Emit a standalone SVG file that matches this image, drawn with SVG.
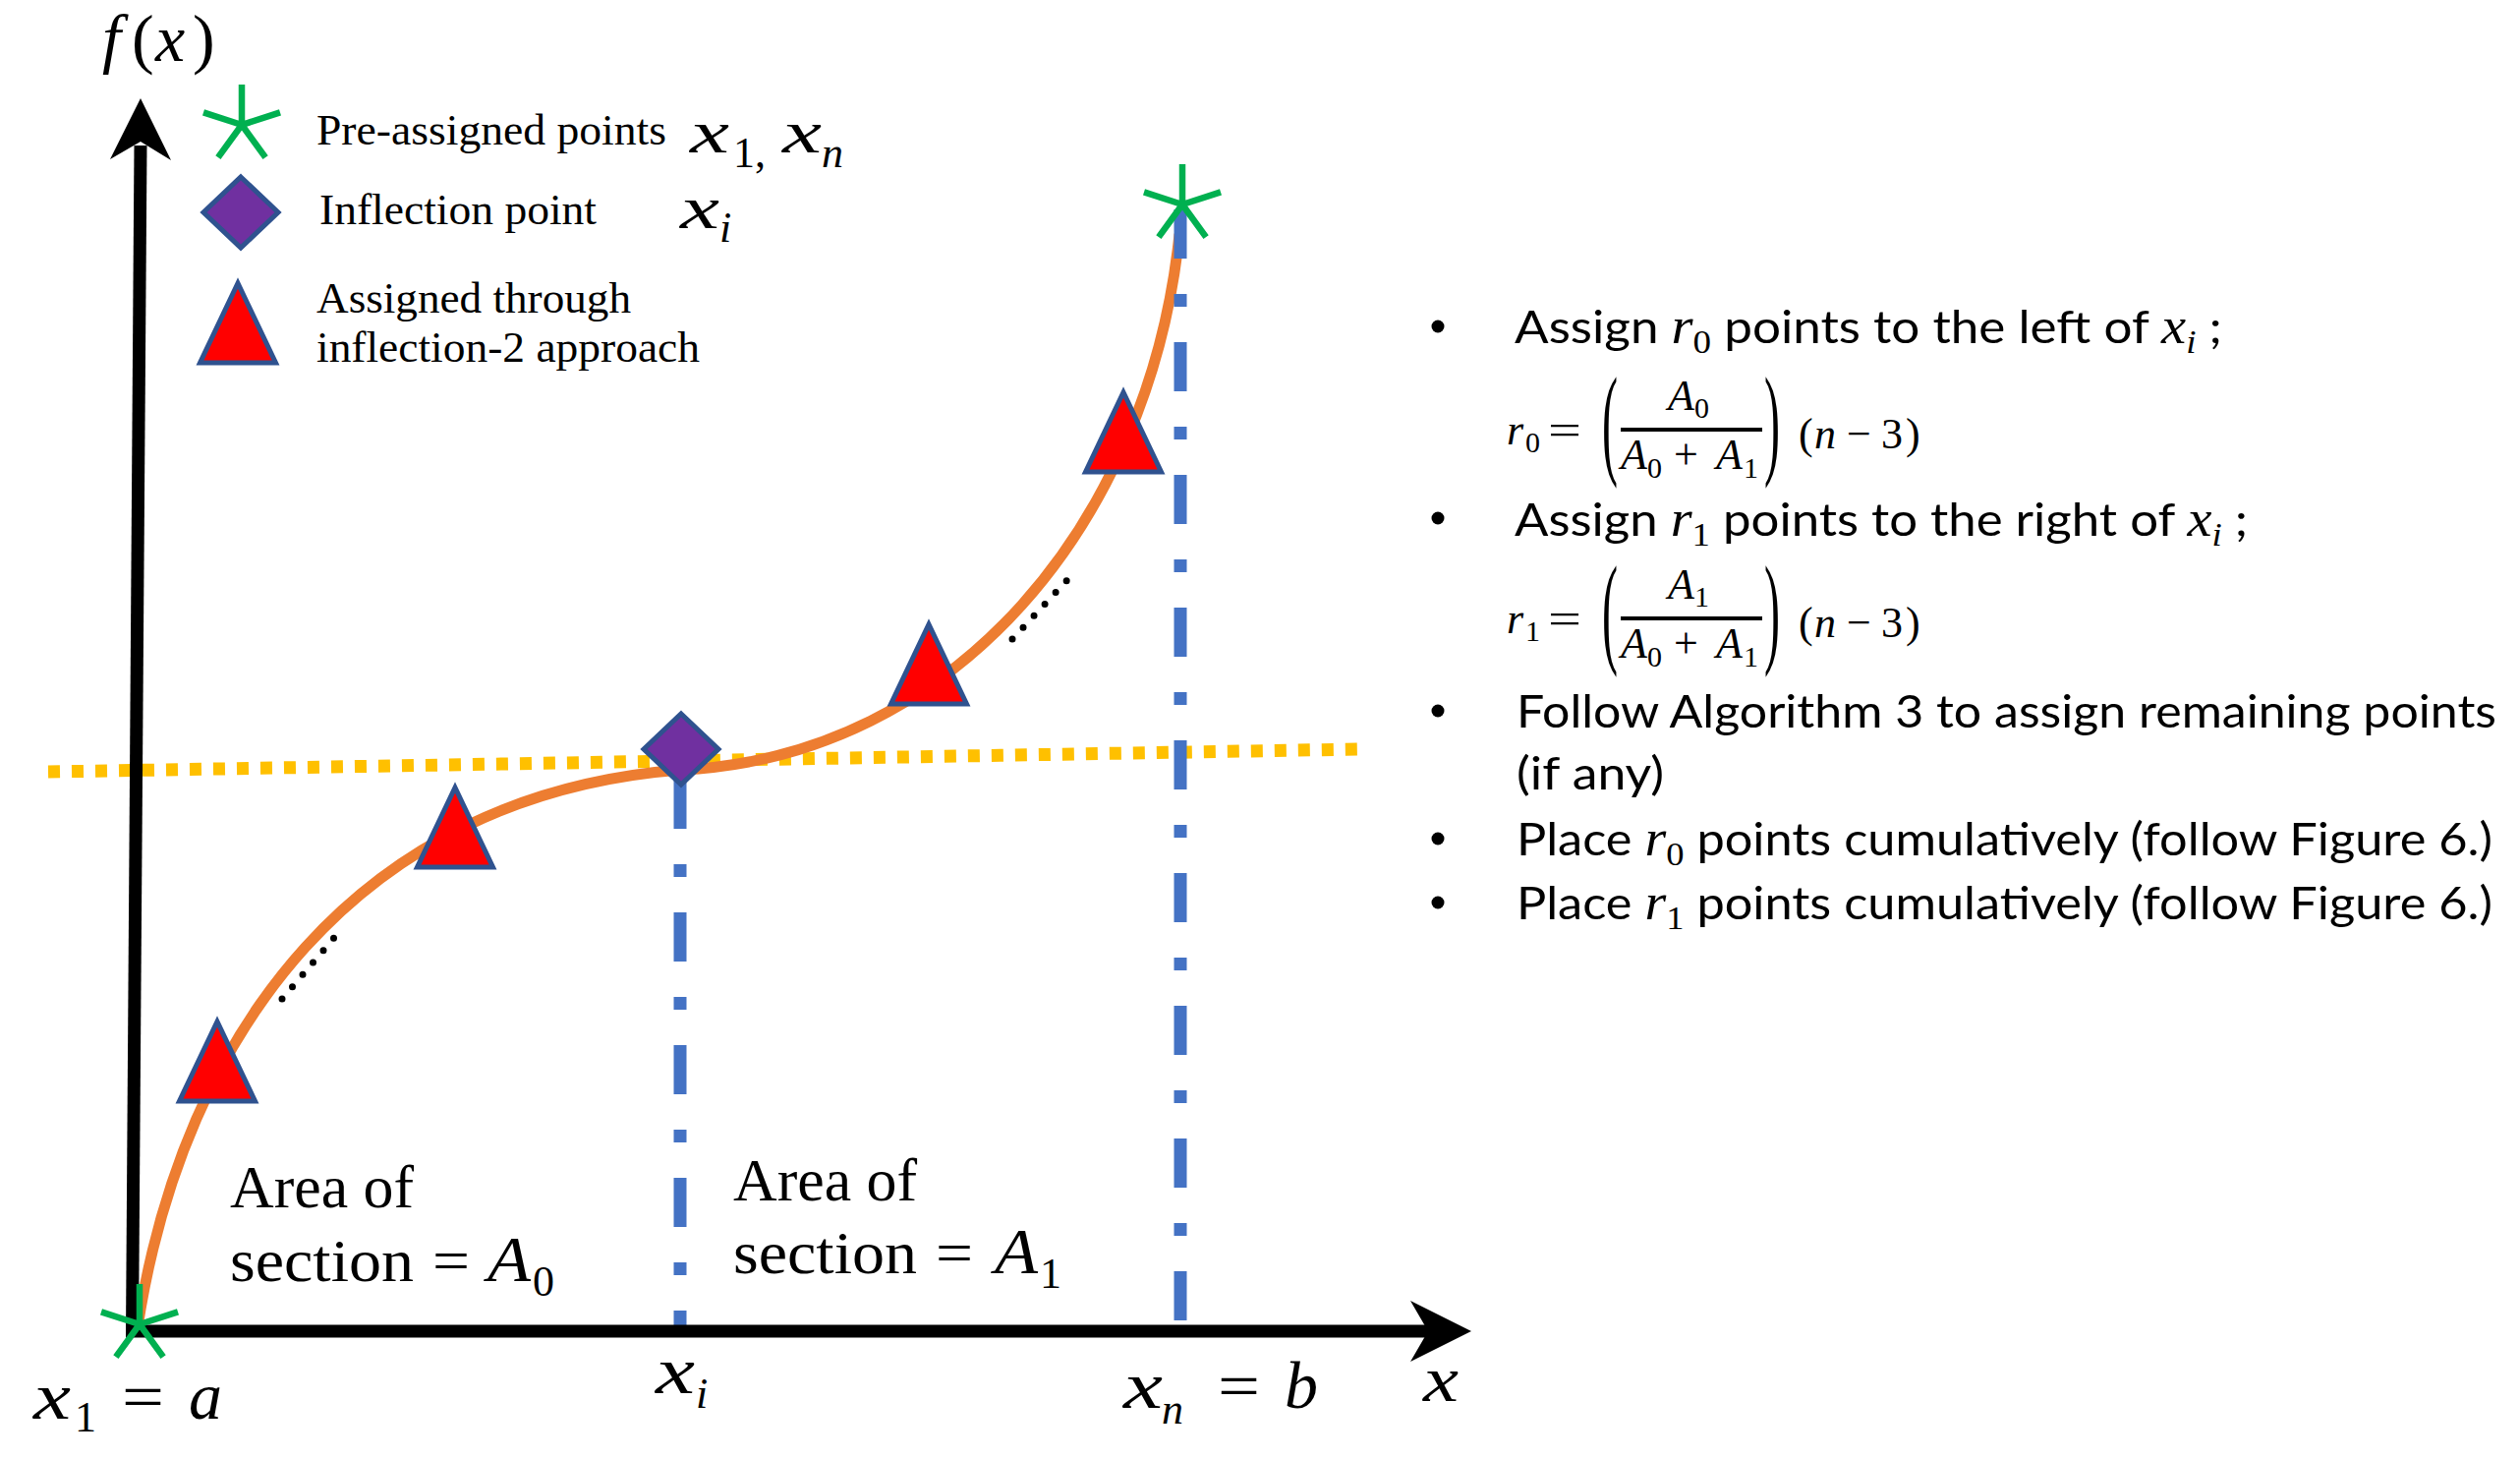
<svg xmlns="http://www.w3.org/2000/svg" width="2564" height="1484" viewBox="0 0 2564 1484">
<style>
  .serif { font-family: "Liberation Serif", "Times New Roman", serif; fill: #000; }
  .mi { font-family: "Liberation Serif", "Times New Roman", serif; font-style: italic; fill: #000; }
  .mu { font-family: "Liberation Serif", "Times New Roman", serif; fill: #000; }
  .sans { font-family: Lato, "Liberation Sans", Arial, sans-serif; fill: #000; }
  .tri { fill: #FF0000; stroke: #2F528F; stroke-width: 5; }
  .dia { fill: #7030A0; stroke: #2F528F; stroke-width: 5; }
  .star { fill: none; stroke: #00B050; stroke-width: 6.5; }
  .vline { fill: none; stroke: #4472C4; stroke-width: 13; stroke-dasharray: 50 36 13 36; }
  .dots { fill: none; stroke: #000; stroke-width: 7; stroke-linecap: round; stroke-dasharray: 0 16.2; }
</style>
<defs>
  <path id="triShape" class="tri" d="M0,-39 L38.5,42 L-38.5,42 Z"/>
  <path id="diaShape" class="dia" d="M0,-36 L38,0 L0,36 L-38,0 Z"/>
  <path id="starShape" class="star" d="M0,0 L0,-41 M0,0 L39,-12.7 M0,0 L24.1,33.2 M0,0 L-24.1,33.2 M0,0 L-39,-12.7"/>
</defs>
<rect width="2564" height="1484" fill="#FFFFFF"/>

<g id="connectors">
  <line id="tangent" x1="49" y1="785" x2="1382" y2="762" stroke="#FFC000" stroke-width="13" stroke-dasharray="12 12"/>
  <path id="curve" d="M140,1350 C186,1050 365,808 693,783 C972,770 1170,530 1200,238" fill="none" stroke="#ED7D31" stroke-width="11"/>
  <line id="vline-xi" class="vline" x1="692" y1="793" x2="692" y2="1354"/>
  <line id="vline-xn" class="vline" x1="1201" y1="213" x2="1201" y2="1343"/>
  <g id="y-axis">
    <line x1="134.5" y1="1360" x2="143" y2="148" stroke="#000" stroke-width="13"/>
    <polygon points="143,100 174,163 143,144 112,162" fill="#000"/>
  </g>
  <g id="x-axis">
    <line x1="128" y1="1354" x2="1458" y2="1354" stroke="#000" stroke-width="13"/>
    <polygon points="1497,1354 1435,1385 1453,1354 1435,1323" fill="#000"/>
  </g>
  <line id="dots-left" class="dots" x1="287" y1="1016" x2="350" y2="942"/>
  <line id="dots-right" class="dots" x1="1030" y1="650" x2="1096" y2="579"/>
</g>

<g id="point-t1"><use href="#triShape" x="221" y="1078"/></g>
<g id="point-t2"><use href="#triShape" x="463" y="840"/></g>
<g id="point-t3"><use href="#triShape" x="945" y="674"/></g>
<g id="point-t4"><use href="#triShape" x="1143" y="438"/></g>
<g id="point-inflection"><use href="#diaShape" x="693" y="762"/></g>
<g id="point-x1"><use href="#starShape" x="142" y="1347"/></g>
<g id="point-xn"><use href="#starShape" x="1203" y="208"/></g>

<g id="legend">
  <g id="legend-star"><use href="#starShape" x="246" y="127"/></g>
  <g id="legend-diamond"><use href="#diaShape" x="245" y="216"/></g>
  <g id="legend-triangle"><use href="#triShape" x="242" y="327"/></g>
  <text class="serif" x="322" y="147" font-size="44" textLength="356" lengthAdjust="spacingAndGlyphs">Pre-assigned points</text>
  <text class="serif" x="325" y="228" font-size="44" textLength="282" lengthAdjust="spacingAndGlyphs">Inflection point</text>
  <text class="serif" x="322" y="318" font-size="44" textLength="320" lengthAdjust="spacingAndGlyphs">Assigned through</text>
  <text class="serif" x="322" y="368" font-size="44" textLength="390" lengthAdjust="spacingAndGlyphs">inflection-2 approach</text>
  <text class="mi" x="702" y="155" font-size="62" textLength="40" lengthAdjust="spacingAndGlyphs">x</text>
  <text class="mu" x="746" y="170" font-size="44">1,</text>
  <text class="mi" x="796" y="155" font-size="62" textLength="40" lengthAdjust="spacingAndGlyphs">x</text>
  <text class="mi" x="836" y="170" font-size="44">n</text>
  <text class="mi" x="692" y="232" font-size="62" textLength="40" lengthAdjust="spacingAndGlyphs">x</text>
  <text class="mi" x="732" y="246" font-size="44">i</text>
</g>

<g id="axis-labels">
  <text x="104" y="62" font-size="68"><tspan class="mi">f</tspan><tspan class="mu" x="134">(</tspan><tspan class="mi" x="158">x</tspan><tspan class="mu" x="196">)</tspan></text>
  <text class="mi" x="1448" y="1425" font-size="66" textLength="36" lengthAdjust="spacingAndGlyphs">x</text>
  <text class="mi" x="34" y="1443" font-size="68" textLength="38" lengthAdjust="spacingAndGlyphs">x</text>
  <text class="mu" x="76" y="1456" font-size="44">1</text>
  <text class="mu" x="124" y="1443" font-size="66" textLength="43" lengthAdjust="spacingAndGlyphs">=</text>
  <text class="mi" x="192" y="1443" font-size="68">a</text>
  <text class="mi" x="667" y="1417" font-size="68" textLength="40" lengthAdjust="spacingAndGlyphs">x</text>
  <text class="mi" x="708" y="1432" font-size="44">i</text>
  <text class="mi" x="1143" y="1432" font-size="68" textLength="40" lengthAdjust="spacingAndGlyphs">x</text>
  <text class="mi" x="1182" y="1448" font-size="44">n</text>
  <text class="mu" x="1239" y="1432" font-size="66" textLength="43" lengthAdjust="spacingAndGlyphs">=</text>
  <text class="mi" x="1307" y="1432" font-size="68">b</text>
</g>

<g id="area-labels">
  <text class="serif" x="234" y="1228" font-size="62" textLength="187" lengthAdjust="spacingAndGlyphs">Area of</text>
  <text class="serif" x="234" y="1303" font-size="62" textLength="187" lengthAdjust="spacingAndGlyphs">section</text>
  <text class="mu" x="440" y="1303" font-size="62" textLength="38" lengthAdjust="spacingAndGlyphs">=</text>
  <text class="mi" x="496" y="1303" font-size="66" textLength="44" lengthAdjust="spacingAndGlyphs">A</text>
  <text class="mu" x="542" y="1318" font-size="44">0</text>
  <text class="serif" x="746" y="1221" font-size="62" textLength="187" lengthAdjust="spacingAndGlyphs">Area of</text>
  <text class="serif" x="746" y="1295" font-size="62" textLength="187" lengthAdjust="spacingAndGlyphs">section</text>
  <text class="mu" x="952" y="1295" font-size="62" textLength="38" lengthAdjust="spacingAndGlyphs">=</text>
  <text class="mi" x="1012" y="1295" font-size="66" textLength="44" lengthAdjust="spacingAndGlyphs">A</text>
  <text class="mu" x="1058" y="1310" font-size="44">1</text>
</g>

<g id="notes">
  <circle cx="1463" cy="332" r="6.5" fill="#000"/>
  <circle cx="1463" cy="527" r="6.5" fill="#000"/>
  <circle cx="1463" cy="723" r="6.5" fill="#000"/>
  <circle cx="1463" cy="853" r="6.5" fill="#000"/>
  <circle cx="1463" cy="918" r="6.5" fill="#000"/>

  <text class="sans" x="1541" y="349" font-size="47" textLength="720" lengthAdjust="spacingAndGlyphs">Assign <tspan class="mi" font-size="52">r</tspan><tspan class="mu" font-size="34" dy="10">0</tspan><tspan dy="-10"> points to the left of </tspan><tspan class="mi" font-size="52">x</tspan><tspan class="mi" font-size="34" dy="10">i</tspan><tspan dy="-10"> ;</tspan></text>

  <g id="formula-r0">
    <text class="mi" x="1533" y="452" font-size="44">r</text>
    <text class="mu" x="1552" y="460" font-size="30">0</text>
    <text class="mu" x="1575" y="452" font-size="44" textLength="34" lengthAdjust="spacingAndGlyphs">=</text>
    <text class="mu" transform="translate(1630,470) scale(1,2.6)" font-size="48">(</text>
    <text class="mi" x="1697" y="417" font-size="44">A</text>
    <text class="mu" x="1724" y="425" font-size="30">0</text>
    <line x1="1649" y1="437" x2="1793" y2="437" stroke="#000" stroke-width="4"/>
    <text class="mi" x="1649" y="477" font-size="44">A</text>
    <text class="mu" x="1676" y="486" font-size="30">0</text>
    <text class="mu" x="1703" y="477" font-size="44">+</text>
    <text class="mi" x="1746" y="477" font-size="44">A</text>
    <text class="mu" x="1774" y="486" font-size="30">1</text>
    <text class="mu" transform="translate(1795,470) scale(1,2.6)" font-size="48">)</text>
    <text x="1830" y="456" font-size="44"><tspan class="mu">(</tspan><tspan class="mi" x="1846">n</tspan><tspan class="mu" x="1879">−</tspan><tspan class="mu" x="1914">3</tspan><tspan class="mu" x="1939">)</tspan></text>
  </g>

  <text class="sans" x="1541" y="545" font-size="47" textLength="746" lengthAdjust="spacingAndGlyphs">Assign <tspan class="mi" font-size="52">r</tspan><tspan class="mu" font-size="34" dy="10">1</tspan><tspan dy="-10"> points to the right of </tspan><tspan class="mi" font-size="52">x</tspan><tspan class="mi" font-size="34" dy="10">i</tspan><tspan dy="-10"> ;</tspan></text>

  <g id="formula-r1">
    <text class="mi" x="1533" y="644" font-size="44">r</text>
    <text class="mu" x="1552" y="652" font-size="30">1</text>
    <text class="mu" x="1575" y="644" font-size="44" textLength="34" lengthAdjust="spacingAndGlyphs">=</text>
    <text class="mu" transform="translate(1630,662) scale(1,2.6)" font-size="48">(</text>
    <text class="mi" x="1697" y="609" font-size="44">A</text>
    <text class="mu" x="1724" y="617" font-size="30">1</text>
    <line x1="1649" y1="629" x2="1793" y2="629" stroke="#000" stroke-width="4"/>
    <text class="mi" x="1649" y="669" font-size="44">A</text>
    <text class="mu" x="1676" y="678" font-size="30">0</text>
    <text class="mu" x="1703" y="669" font-size="44">+</text>
    <text class="mi" x="1746" y="669" font-size="44">A</text>
    <text class="mu" x="1774" y="678" font-size="30">1</text>
    <text class="mu" transform="translate(1795,662) scale(1,2.6)" font-size="48">)</text>
    <text x="1830" y="648" font-size="44"><tspan class="mu">(</tspan><tspan class="mi" x="1846">n</tspan><tspan class="mu" x="1879">−</tspan><tspan class="mu" x="1914">3</tspan><tspan class="mu" x="1939">)</tspan></text>
  </g>

  <text class="sans" x="1543" y="740" font-size="47" textLength="997" lengthAdjust="spacingAndGlyphs">Follow Algorithm 3 to assign remaining points</text>
  <text class="sans" x="1543" y="803" font-size="47" textLength="150" lengthAdjust="spacingAndGlyphs">(if any)</text>
  <text class="sans" x="1543" y="870" font-size="47" textLength="993" lengthAdjust="spacingAndGlyphs">Place <tspan class="mi" font-size="52">r</tspan><tspan class="mu" font-size="34" dy="10">0</tspan><tspan dy="-10"> points cumulatively (follow Figure 6.)</tspan></text>
  <text class="sans" x="1543" y="935" font-size="47" textLength="993" lengthAdjust="spacingAndGlyphs">Place <tspan class="mi" font-size="52">r</tspan><tspan class="mu" font-size="34" dy="10">1</tspan><tspan dy="-10"> points cumulatively (follow Figure 6.)</tspan></text>
</g>
</svg>
